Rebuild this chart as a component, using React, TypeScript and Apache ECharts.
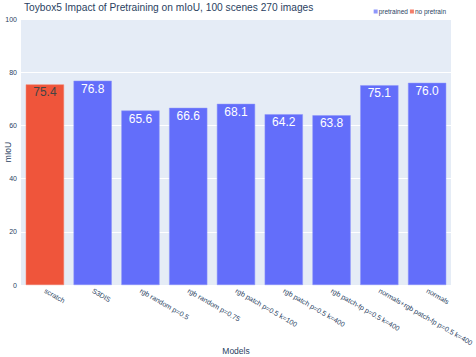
import React, { useEffect, useRef } from "react";
import * as echarts from "echarts";

const categories = [
  "scratch",
  "S3DIS",
  "rgb random p=0.5",
  "rgb random p=0.75",
  "rgb patch p=0.5 k=100",
  "rgb patch p=0.5 k=400",
  "rgb patch-fp p=0.5 k=400",
  "normals+rgb patch-fp p=0.5 k=400",
  "normals",
];
const pretrained = [null, 76.8, 65.6, 66.6, 68.1, 64.2, 63.8, 75.1, 76.0];
const noPretrain = [75.4, null, null, null, null, null, null, null, null];

export default function App() {
  const ref = useRef<HTMLDivElement>(null);
  useEffect(() => {
    const chart = echarts.init(ref.current!, null, { renderer: "svg" });
    const font = "'Liberation Sans', Arial, sans-serif";
    chart.setOption({
      animation: false,
      backgroundColor: "#ffffff",
      textStyle: { fontFamily: font },
      title: {
        text: "Toybox5 Impact of Pretraining on mIoU, 100 scenes 270 images",
        left: 19,
        top: -3,
        textStyle: { fontSize: 10.2, fontWeight: "normal", color: "#2a3f5f", fontFamily: font },
      },
      legend: {
        right: 25,
        top: 3,
        itemWidth: 2,
        itemHeight: 2,
        itemGap: 2,
        icon: "rect",
        textStyle: { fontSize: 6.5, color: "#2a3f5f", padding: [0, 0, 0, -3], fontFamily: font },
        data: ["pretrained", "no pretrain"],
      },
      grid: {
        left: 21,
        right: 25,
        top: 19,
        bottom: 72,
        containLabel: false,
        outerBoundsMode: "none",
        show: true,
        backgroundColor: "#e5ecf6",
        borderWidth: 0,
      },
      xAxis: {
        type: "category",
        data: categories,
        name: "Models",
        nameLocation: "middle",
        nameGap: 66,
        nameMoveOverlap: false,
        nameTextStyle: { fontSize: 8.5, color: "#2a3f5f", fontFamily: font, verticalAlign: "middle" },
        axisLine: { show: false },
        axisTick: { show: false },
        axisLabel: { rotate: -30, fontSize: 7, color: "#2a3f5f", margin: 5, interval: 0, fontFamily: font },
      },
      yAxis: {
        type: "value",
        min: 0,
        max: 100,
        interval: 20,
        name: "mIoU",
        nameLocation: "middle",
        nameGap: 13,
        nameMoveOverlap: false,
        nameTextStyle: { fontSize: 8.5, color: "#2a3f5f", fontFamily: font, verticalAlign: "middle" },
        axisLabel: { fontSize: 7, color: "#2a3f5f", margin: 4, fontFamily: font },
        splitLine: { lineStyle: { color: "#ffffff", width: 1 } },
        axisLine: { show: false },
        axisTick: { show: false },
      },
      series: [
        {
          name: "pretrained",
          type: "bar",
          stack: "a",
          data: pretrained,
          barWidth: "80%",
          itemStyle: { color: "#636efa", borderColor: "#8f97fb", borderWidth: 0.5 },
          label: {
            show: true,
            position: "insideTop",
            distance: 2,
            fontSize: 12,
            color: "#ffffff",
            fontFamily: font,
            formatter: (p: any) => Number(p.value).toFixed(1),
          },
        },
        {
          name: "no pretrain",
          type: "bar",
          stack: "a",
          data: noPretrain,
          barWidth: "80%",
          itemStyle: { color: "#ef553b", borderColor: "#f47e6a", borderWidth: 0.5 },
          label: {
            show: true,
            position: "insideTop",
            distance: 2,
            fontSize: 12,
            color: "#444444",
            fontFamily: font,
            formatter: (p: any) => Number(p.value).toFixed(1),
          },
        },
      ],
    });
    return () => chart.dispose();
  }, []);
  return (
    <div ref={ref} style={{ width: 476, height: 357, position: "absolute", left: 0, top: 0 }} />
  );
}
